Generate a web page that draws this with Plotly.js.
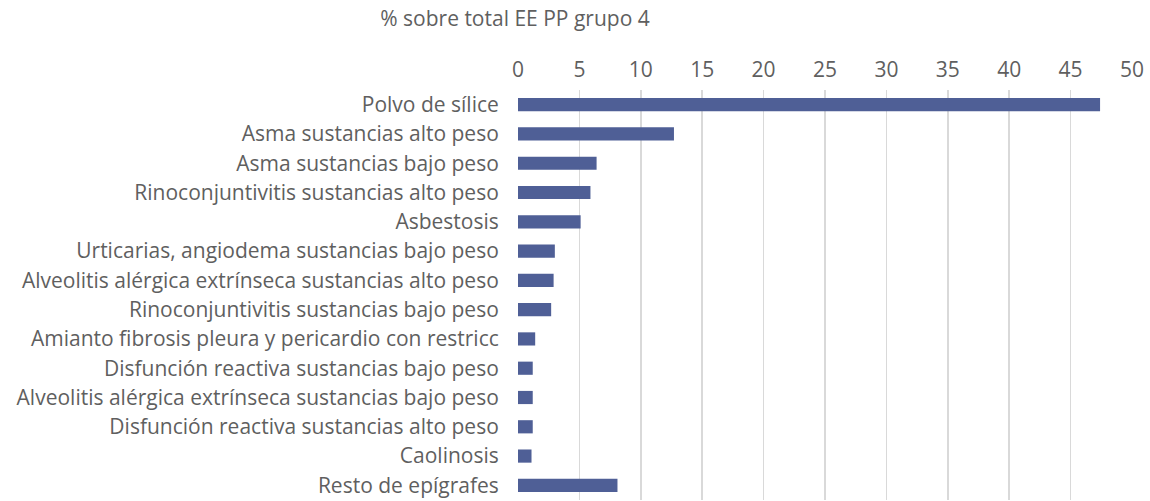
<!DOCTYPE html>
<html>
<head>
<meta charset="utf-8">
<script src="https://cdn.plot.ly/plotly-3.0.1.min.js"></script>
<style>
  html, body { margin: 0; padding: 0; background: #fff; }
  #chart { width: 1150px; height: 501px; }
</style>
</head>
<body>
<div id="chart"></div>
<script>
// categories, top to bottom as in the original chart
let categories = [
    "Polvo de sílice",
    "Asma sustancias alto peso",
    "Asma sustancias bajo peso",
    "Rinoconjuntivitis sustancias alto peso",
    "Asbestosis",
    "Urticarias, angiodema sustancias bajo peso",
    "Alveolitis alérgica extrínseca sustancias alto peso",
    "Rinoconjuntivitis sustancias bajo peso",
    "Amianto fibrosis pleura y pericardio con restricc",
    "Disfunción reactiva sustancias bajo peso",
    "Alveolitis alérgica extrínseca sustancias bajo peso",
    "Disfunción reactiva sustancias alto peso",
    "Caolinosis",
    "Resto de epígrafes"
];

// % sobre total EE PP grupo 4
let porcentajes = [47.4, 12.7, 6.4, 5.9, 5.1, 3.0, 2.9, 2.7, 1.4, 1.2, 1.2, 1.2, 1.1, 8.1];

let xTicks = [0, 5, 10, 15, 20, 25, 30, 35, 40, 45, 50];

let barTrace = {
    type: 'bar',
    orientation: 'h',
    x: porcentajes,
    y: categories,
    marker: { color: '#4f5f96' },
    hoverinfo: 'x+y'
};

let layout = {
    width: 1150,
    height: 501,
    paper_bgcolor: '#ffffff',
    plot_bgcolor: '#ffffff',
    font: { family: '"Open Sans", Lato, sans-serif', size: 21, color: '#5f5f5f' },
    title: {
        text: '% sobre total EE PP grupo 4',
        font: { size: 21, color: '#5f5f5f' },
        x: 515 / 1150,
        xanchor: 'center',
        xref: 'container',
        y: 1 - 19 / 501,
        yanchor: 'middle'
    },
    margin: { l: 518, r: 18, t: 90, b: 1 },
    bargap: 0.55,
    showlegend: false,
    xaxis: {
        side: 'top',
        range: [0, 50],
        tickvals: xTicks,
        ticktext: xTicks.map(String),
        tickfont: { size: 21 },
        showgrid: true,
        gridcolor: '#d9d9d9',
        gridwidth: 1.5,
        zeroline: false,
        showline: false,
        ticks: 'outside',
        ticklen: 4,
        tickcolor: 'rgba(0,0,0,0)'
    },
    yaxis: {
        autorange: 'reversed',
        showgrid: false,
        zeroline: false,
        showline: false,
        ticks: 'outside',
        ticklen: 14,
        tickcolor: 'rgba(0,0,0,0)'
    }
};

Plotly.newPlot('chart', [barTrace], layout, { displayModeBar: false, staticPlot: true });
</script>
</body>
</html>
